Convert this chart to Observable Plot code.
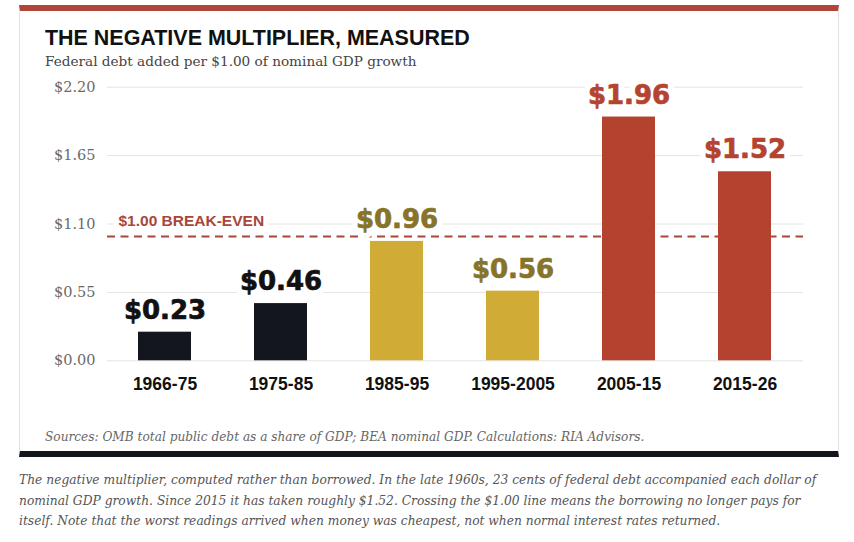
<!DOCTYPE html>
<html><head><meta charset="utf-8">
<script src="https://cdn.jsdelivr.net/npm/d3@7"></script>
<script src="https://cdn.jsdelivr.net/npm/@observablehq/plot@0.6"></script>
<style>
body{margin:0;background:#fff}
#wrap{position:relative;width:854px;height:542px;overflow:hidden;background:#fff}
.card{position:absolute;left:19px;top:5px;width:818px;height:440px;border-top:6px solid #b2453a;border-bottom:6px solid #14161d;border-left:1px solid #e2e2e2;border-right:1px solid #e2e2e2}
.t{position:absolute;white-space:nowrap;line-height:1}
#title{left:45px;font-family:"Liberation Sans",Arial,sans-serif;font-weight:bold;font-size:21.5px;color:#111}
#subtitle{left:45px;font-family:"DejaVu Serif",serif;font-size:14px;color:#444}
#sources{left:45px;font-family:"DejaVu Serif",serif;font-style:italic;font-size:12px;color:#666}
#caption{left:19px;font-family:"DejaVu Serif",serif;font-style:italic;font-size:12.5px;color:#555;line-height:20.5px}
#plot{position:absolute;left:0;top:0}
</style></head>
<body>
<div id="wrap">
  <div class="card"></div>
  <div id="plot"></div>
  <div class="t" id="title">THE NEGATIVE MULTIPLIER, MEASURED</div>
  <div class="t" id="subtitle">Federal debt added per $1.00 of nominal GDP growth</div>
  <div class="t" id="sources">Sources: OMB total public debt as a share of GDP; BEA nominal GDP. Calculations: RIA Advisors.</div>
  <div class="t" id="caption"><span id="cap1">The negative multiplier, computed rather than borrowed. In the late 1960s, 23 cents of federal debt accompanied each dollar of</span><br><span>nominal GDP growth. Since 2015 it has taken roughly $1.52. Crossing the $1.00 line means the borrowing no longer pays for</span><br><span>itself. Note that the worst readings arrived when money was cheapest, not when normal interest rates returned.</span></div>
</div>
<script>
// ---- data ----
const periods = ["1966-75", "1975-85", "1985-95", "1995-2005", "2005-15", "2015-26"];
const multipliers = [0.23, 0.46, 0.96, 0.56, 1.96, 1.52];
const eras = ["early", "early", "mid", "mid", "late", "late"];
const eraNames = ["early", "mid", "late"];
const barColors = ["#14161d", "#d0ac36", "#b3432f"];
const labelColors = ["#111111", "#86742a", "#b4432f"];
const yTicks = [0, 0.55, 1.10, 1.65, 2.20];
const breakEven = [1.0];
const breakEvenLabel = ["$1.00 BREAK-EVEN"];

const table = periods.map((p, i) => ({period: p, value: multipliers[i], era: eras[i]}));
const money = v => "$" + v.toFixed(2);
const barFill = d => barColors[eraNames.indexOf(d.era)];
const labelFill = d => labelColors[eraNames.indexOf(d.era)];

const sans = "Liberation Sans, Arial, sans-serif";
const svg = Plot.plot({
  width: 854, height: 400,
  marginTop: 86.7, marginBottom: 39.7, marginLeft: 107, marginRight: 51,
  style: {background: "transparent", overflow: "visible", fontFamily: sans},
  x: {domain: periods, paddingInner: 0.54, paddingOuter: 0.27, label: null},
  y: {domain: [0, 2.2], label: null},
  color: {type: "identity"},
  marks: [
    Plot.gridY(yTicks, {stroke: "#e4e4e4", strokeOpacity: 1}),
    Plot.axisY(yTicks, {tickSize: 0, tickPadding: 12, tickFormat: money, fontFamily: "DejaVu Serif, serif", fontSize: 14.5, fill: "#6a6a6a", label: null}),
    Plot.axisX({tickSize: 0, tickPadding: 17, fontSize: 17.5, fontWeight: "bold", fontFamily: sans, fill: "#111", label: null}),
    Plot.ruleY(breakEven, {stroke: "#a8463b", strokeWidth: 2, strokeDasharray: "8,5.5"}),
    Plot.barY(table, {x: "period", y: "value", fill: barFill}),
    Plot.text(table, {x: "period", y: "value", text: d => money(d.value), dy: -13.5, lineAnchor: "bottom",
      fontSize: 26, fontWeight: "bold", fontFamily: "DejaVu Sans, sans-serif", fill: "white", stroke: "white", strokeWidth: 12}),
    Plot.text(table, {x: "period", y: "value", text: d => money(d.value), dy: -13.5, lineAnchor: "bottom",
      fontSize: 26, fontWeight: "bold", fontFamily: "DejaVu Sans, sans-serif", fill: labelFill, stroke: labelFill, strokeWidth: 0.7}),
    Plot.text(breakEvenLabel, {y: breakEven, text: d => d, frameAnchor: "left", dx: 11, dy: -10, lineAnchor: "bottom", textAnchor: "start",
      fontSize: 15.5, fontWeight: "bold", fontFamily: sans, fill: "#a8463b", stroke: "white", strokeWidth: 10})
  ]
});
document.getElementById("plot").appendChild(svg);

// ---- text layout helpers ----
function fit(el, measureEl, target) {
  const w = measureEl.getBoundingClientRect().width;
  const fs = parseFloat(getComputedStyle(el).fontSize);
  el.style.fontSize = (fs * target / w) + "px";
}
function placeBaseline(el, y) {
  el.style.top = "0px";
  const probe = document.createElement("span");
  probe.style.cssText = "display:inline-block;width:0;height:0;vertical-align:baseline";
  el.prepend(probe);
  const off = probe.getBoundingClientRect().top - el.getBoundingClientRect().top;
  probe.remove();
  el.style.top = (y - off) + "px";
}
const title = document.getElementById("title");
const subtitle = document.getElementById("subtitle");
const sources = document.getElementById("sources");
const caption = document.getElementById("caption");
fit(title, title, 425);
fit(subtitle, subtitle, 372);
fit(sources, sources, 600);
fit(caption, document.getElementById("cap1"), 798);
placeBaseline(title, 45);
placeBaseline(subtitle, 66);
placeBaseline(sources, 441);
placeBaseline(caption, 484);
</script>
</body></html>
